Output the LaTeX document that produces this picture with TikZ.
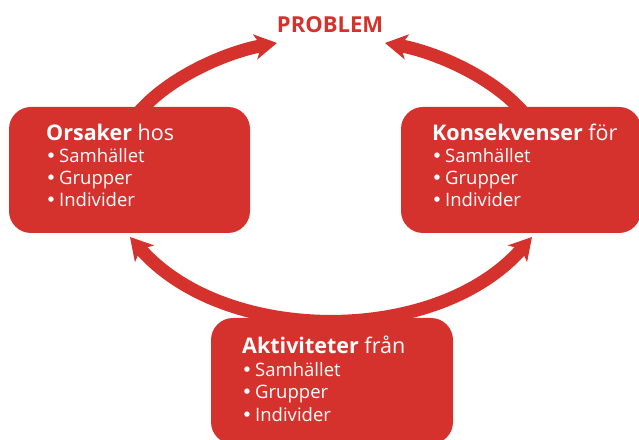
\documentclass[tikz,border=0pt]{standalone}
\usepackage{fontspec}
\setmainfont{Open Sans}
\newfontfamily\bulletfont{DejaVu Sans}
\usetikzlibrary{arrows.meta}
\definecolor{kred}{RGB}{213,50,46}
\newcommand\kbul{\makebox[13.5pt][l]{\bulletfont •}}
\begin{document}
\begin{tikzpicture}[x=1pt,y=1pt,
  box/.style={fill=kred, rounded corners=22pt, draw=none, inner sep=0pt},
  kstealth/.tip={Stealth[length=22pt,width=25pt,inset=6pt]},
  arr/.style={draw=kred, line width=13pt},
  title/.style={anchor=base west, text=white, font=\fontsize{21.5}{24}\selectfont, inner sep=0pt},
  item/.style={anchor=base west, text=white, font=\fontsize{18.5}{20}\selectfont, inner sep=0pt},
  head/.style={anchor=base, text=kred, font=\bfseries\fontsize{22}{26}\selectfont, inner sep=0pt},
]
\clip (0,0) rectangle (639,439);
\fill[white] (0,0) rectangle (639,439);
% boxes
\node[box, minimum width=241pt, minimum height=126pt] (orsak) at (129.5,269) {};
\node[box, minimum width=240pt, minimum height=126pt] (konsek) at (521,269) {};
\node[box, minimum width=242pt, minimum height=126pt] (aktiv) at (332,58) {};
% heading
\node[head] (problem) at (330,406) {PROBLEM};
% arrow end points
\coordinate (s1) at (135,322);
\coordinate (t1) at (277,396);
\coordinate (s2) at (527,322);
\coordinate (t2) at (385,396);
\coordinate (bl) at (130,202);
\coordinate (br) at (532,202);
\draw[arr, -{kstealth}] (s1) to[out=52, in=190, looseness=0.8] (t1);
\draw[arr, -{kstealth}] (s2) to[out=128, in=-10, looseness=0.8] (t2);
\draw[arr, {kstealth}-{kstealth}] (bl) to[out=-49, in=229, looseness=0.92] (br);
% texts left
\node[title] (o0) at (46,298) {\textbf{Orsaker} hos};
\node[item] (o1) at (45.5,276) {\kbul Samhället};
\node[item] (o2) at (45.5,254) {\kbul Grupper};
\node[item] (o3) at (45.5,232) {\kbul Individer};
% texts right
\node[title] (k0) at (432,298) {\textbf{Konsekvenser} för};
\node[item] (k1) at (431.5,276) {\kbul Samhället};
\node[item] (k2) at (431.5,254) {\kbul Grupper};
\node[item] (k3) at (431.5,232) {\kbul Individer};
% texts bottom
\node[title] (a0) at (242,86) {\textbf{Aktiviteter} från};
\node[item] (a1) at (241.5,63) {\kbul Samhället};
\node[item] (a2) at (241.5,41) {\kbul Grupper};
\node[item] (a3) at (241.5,18) {\kbul Individer};
\end{tikzpicture}
\end{document}
